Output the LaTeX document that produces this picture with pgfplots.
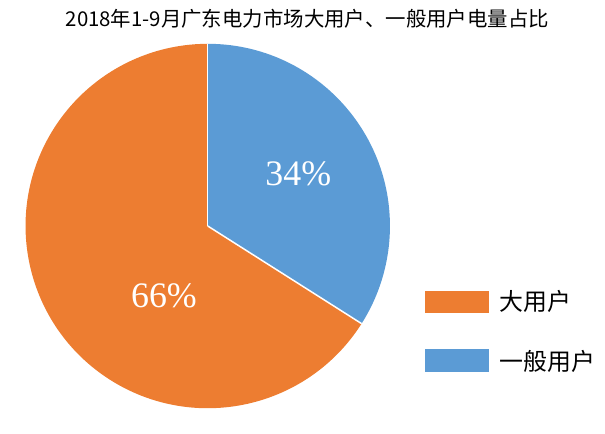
\documentclass[border=0pt]{standalone}
\usepackage{pgfplots}
\pgfplotsset{compat=1.18}
\usepackage{pgfplotstable}
\usepackage{fontspec}
\setmainfont{Liberation Serif}
\newfontfamily\cjk{Noto Sans CJK SC}
\definecolor{cOrange}{HTML}{ED7D31}
\definecolor{cBlue}{HTML}{5B9BD5}
\pgfplotstableread{
name value
general 34
large 66
}\piedata
\begin{document}
\begin{tikzpicture}
\pgfplotstablegetelem{0}{value}\of\piedata \let\vGen\pgfplotsretval
\pgfplotstablegetelem{1}{value}\of\piedata \let\vLarge\pgfplotsretval
\pgfmathsetmacro{\aSplit}{90-3.6*\vGen}
\begin{axis}[at={(0,0)},anchor=south west,scale only axis,x=1bp,y=1bp,
  xmin=0,xmax=605,ymin=0,ymax=416,hide axis,clip=false]
\fill[cBlue] (axis cs:206,189) -- ++(90:183bp) arc[start angle=90,end angle=\aSplit,radius=183bp] -- cycle;
\fill[cOrange] (axis cs:206,189) -- ++(\aSplit:183bp) arc[start angle=\aSplit,end angle=-270,radius=183bp] -- cycle;
\draw[white,line width=1.5bp] (axis cs:206,189) -- ++(90:183bp);
\draw[white,line width=1.5bp] (axis cs:206,189) -- ++(\aSplit:183bp);
\node[white,font=\fontsize{36bp}{36bp}\selectfont] at (axis cs:297,241) {\vGen\%};
\node[white,font=\fontsize{36bp}{36bp}\selectfont] at (axis cs:162,119) {\vLarge\%};
\fill[cOrange] (axis cs:424,102) rectangle (axis cs:488,124);
\fill[cBlue] (axis cs:424,42) rectangle (axis cs:488,65);
\node[anchor=west,inner sep=0pt,font=\cjk\fontsize{24bp}{24bp}\selectfont] at (axis cs:499,113.5) {大用户};
\node[anchor=west,inner sep=0pt,font=\cjk\fontsize{24bp}{24bp}\selectfont] at (axis cs:499,53) {一般用户};
\node[font=\cjk\fontsize{20.5bp}{20.5bp}\selectfont] at (axis cs:306,397) {2018年1-9月广东电力市场大用户、一般用户电量占比};
\end{axis}
\path[use as bounding box] (0,0) rectangle (605bp,416bp);
\end{tikzpicture}
\end{document}
